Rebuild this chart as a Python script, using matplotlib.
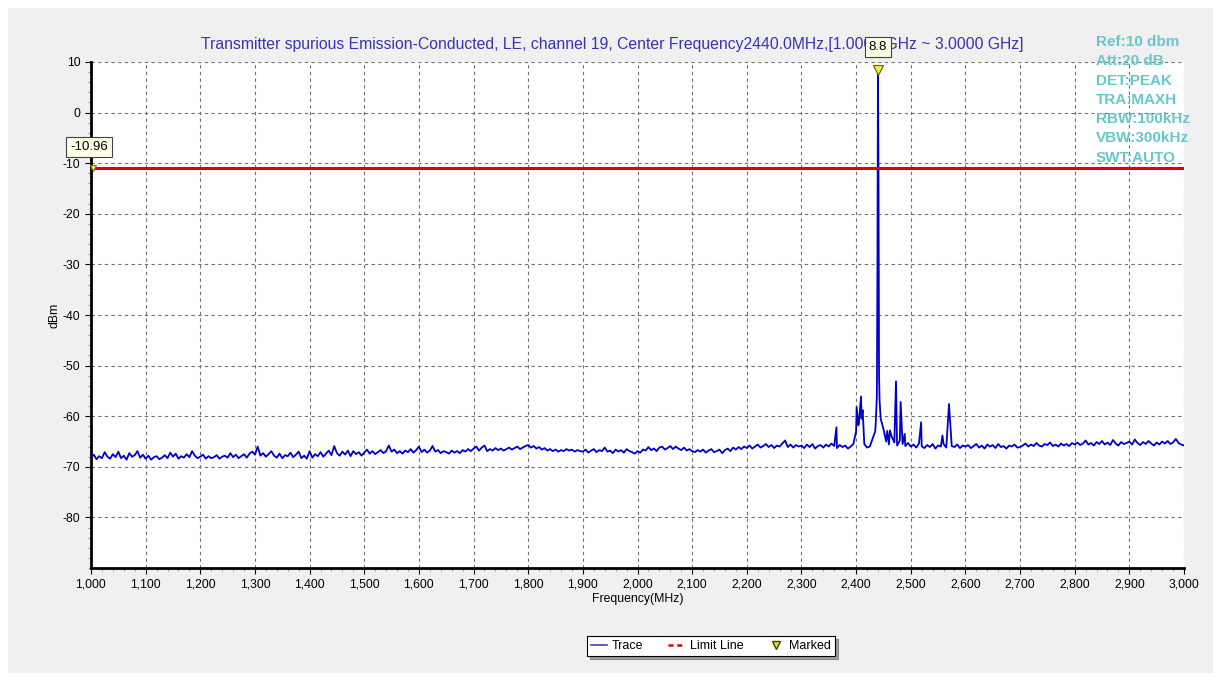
import numpy as np
import matplotlib.pyplot as plt
from matplotlib.patches import Rectangle
from matplotlib.lines import Line2D
from matplotlib.ticker import MultipleLocator, FuncFormatter

plt.rcParams['font.family'] = ['Liberation Sans', 'DejaVu Sans']
plt.rcParams['axes.unicode_minus'] = False

# noise floor, read every 5 MHz from 1000 to 3000 MHz
freq_start = 1000
freq_step = 5
floor_dbm = [
    -68.2, -67.6, -68.5, -67.9, -68.3, -67.1, -68.0, -68.4, -67.5, -68.1, -67.0, -68.3, -67.8, -68.6, -67.3, -68.0, -67.7, -66.9, -68.2, -67.6,
    -68.4, -67.8, -68.6, -68.1, -67.9, -68.5, -68.2, -67.7, -68.3, -67.2, -68.0, -67.4, -68.4, -67.9, -68.2, -67.5, -68.1, -66.9, -67.8, -68.3,
    -68.0, -67.6, -68.4, -67.9, -68.3, -68.1, -67.7, -68.4, -68.0, -67.8, -68.2, -67.3, -68.1, -67.6, -68.3, -67.9, -67.5, -68.2, -67.4, -67.0,
    -67.6, -66.0, -67.8, -67.3, -68.0, -67.5, -66.9, -67.8, -68.2, -67.4, -68.3, -67.7, -67.9, -67.2, -68.1, -67.6, -67.0, -68.3, -67.8, -68.4,
    -66.9, -68.2, -67.5, -67.9, -67.1, -68.0, -67.4, -66.8, -67.7, -65.9, -67.3, -67.8, -67.0, -67.6, -66.8, -67.9, -66.9, -67.5, -67.1, -67.8,
    -67.2, -66.6, -67.4, -66.9, -67.5, -67.1, -66.7, -67.3, -66.9, -65.8, -67.0, -66.6, -67.3, -66.9, -67.4, -66.8, -67.1, -66.5, -67.2, -66.7,
    -66.0, -67.1, -66.6, -67.2, -66.8, -65.9, -67.0, -66.7, -67.3, -66.9, -67.1, -67.4, -66.8, -67.2, -66.9, -67.3, -66.7, -67.0, -66.5, -66.9,
    -66.4, -66.0, -66.8, -66.2, -65.8, -66.9, -66.5, -66.8, -66.3, -66.7, -66.4, -66.8, -66.5, -66.2, -66.6, -66.3, -66.0, -66.5, -66.2, -65.9,
    -65.7, -66.2, -65.9, -66.4, -66.1, -66.6, -66.3, -66.8, -66.5, -66.9, -66.6, -67.0, -66.7, -66.9, -66.5, -66.8, -66.6, -67.0, -66.7, -66.9,
    -67.0, -66.6, -67.2, -66.8, -66.5, -67.1, -66.7, -66.9, -66.2, -67.0, -66.8, -67.3, -66.6, -67.0, -66.7, -67.2, -66.5, -66.9, -67.1, -67.4,
    -66.9, -67.2, -66.6, -66.8, -66.1, -66.7, -66.4, -66.9, -66.2, -66.0, -66.6, -66.3, -65.9, -66.5, -66.0, -66.4, -66.7, -66.2, -66.8, -66.5,
    -66.9, -67.1, -66.7, -67.0, -66.6, -67.2, -66.8, -66.5, -67.1, -66.9, -66.6, -67.3, -66.7, -66.4, -66.9, -66.2, -66.6, -66.1, -66.5, -66.0,
    -66.3, -65.8, -66.4, -66.0, -65.6, -66.2, -65.9, -65.5, -66.1, -65.7, -66.3, -65.8, -66.0, -65.4, -64.8, -66.1, -65.6, -66.2, -65.7, -66.0,
    -65.8, -66.3, -65.6, -66.1, -65.5, -66.4, -65.9, -65.7, -66.2, -65.6, -66.0, -65.4, -65.9, -66.3, -65.7, -66.1, -65.8, -66.4, -66.0, -65.5,
    -63.0, -61.5, -60.5, -65.5, -66.2, -66.0, -64.5, -63.0, -62.0, -60.5, -62.5, -65.0, -65.6, -64.0, -65.2, -65.8, -64.8, -65.5, -65.9, -65.3,
    -66.0, -65.6, -66.2, -65.4, -65.9, -66.3, -65.7, -66.1, -65.5, -66.4, -65.8, -66.0, -65.5, -66.2, -65.3, -65.9, -66.1, -65.6, -66.3, -65.8,
    -66.0, -65.7, -66.3, -65.9, -65.5, -66.2, -65.8, -66.4, -65.6, -66.0, -65.7, -66.3, -65.5, -66.1, -65.9, -66.4, -65.8, -66.0, -65.6, -66.2,
    -66.1, -65.8, -65.4, -66.0, -65.6, -65.9, -65.3, -65.8, -66.0, -65.5, -65.7, -65.2, -65.9, -65.6, -66.0, -65.4, -65.8, -65.5, -65.9, -65.3,
    -65.6, -65.2, -65.7, -65.4, -64.8, -65.6, -65.3, -65.8, -65.1, -65.5, -64.9, -65.6, -65.2, -65.7, -64.7, -65.4, -65.8, -65.1, -65.5, -65.3,
    -65.0, -65.6, -64.6, -65.3, -65.7, -65.1, -65.5, -64.9, -65.4, -65.8, -65.2, -65.6, -65.0, -65.4, -64.9, -65.5, -65.2, -64.5, -65.3, -65.6,
    -65.8,
]

# spurs and carrier (MHz, dBm)
spur_freq = [2364, 2401, 2404, 2409, 2412, 2436, 2438, 2439, 2440, 2441, 2442, 2443,
             2457, 2462, 2473, 2481.5, 2489, 2519, 2558, 2570]
spur_dbm = [-62.2, -58.2, -61.8, -56.1, -58.8, -61.2, -56.0, -32.3, 8.8, -13.0, -52.0, -57.0,
            -62.9, -62.8, -53.1, -57.2, -63.5, -61.2, -63.8, -57.6]

limit_dbm = -10.96
marker_freq = 2440
marker_dbm = 8.8

title = ("Transmitter spurious Emission-Conducted, LE, channel 19, "
         "Center Frequency2440.0MHz,[1.0000 GHz ~ 3.0000 GHz]")
info_lines = ["Ref:10 dbm", "Att:20 dB", "DET:PEAK", "TRA:MAXH",
              "RBW:100kHz", "VBW:300kHz", "SWT:AUTO"]

# merge floor and spurs
floor_freq = freq_start + freq_step * np.arange(len(floor_dbm))
keep = ~np.isin(floor_freq, spur_freq)
f_all = np.concatenate([floor_freq[keep], spur_freq])
v_all = np.concatenate([np.array(floor_dbm)[keep], spur_dbm])
order = np.argsort(f_all)
f_all, v_all = f_all[order], v_all[order]

fig = plt.figure(figsize=(12.21, 6.81), dpi=100, facecolor='white')
fig.patches.append(Rectangle((8 / 1221, 8 / 681), 1205 / 1221, 665 / 681,
                             transform=fig.transFigure, facecolor='#f0f0f0',
                             edgecolor='none', zorder=-10))

ax = fig.add_axes([91 / 1221, 1 - 568 / 681, 1093 / 1221, 506 / 681])
ax.set_facecolor('white')

ax.plot(f_all, v_all, color='#0000cc', lw=1.3, zorder=3)
ax.axhline(limit_dbm, color='#e00000', lw=2.2, zorder=4)

ax.plot([marker_freq], [marker_dbm - 0.3], marker='v', ms=7, color='#f0f040',
        mec='#606000', mew=0.8, ls='none', zorder=6, clip_on=False)
ax.plot([1003], [limit_dbm], marker='v', ms=5, color='#f0f040',
        mec='#606000', mew=0.6, ls='none', zorder=6, clip_on=False)

# title and info live on the axes so the marker boxes can sit on top
ax.text(612 / 1221, 1 - 44 / 681, title, transform=fig.transFigure,
        ha='center', va='center', fontsize=11.3, color='#3a32b4',
        zorder=8, clip_on=False)
for i, line in enumerate(info_lines):
    ax.text(1096 / 1221, 1 - (42 + i * 19.3) / 681, line, transform=fig.transFigure,
            ha='left', va='center', fontsize=11, fontweight='bold',
            color='#66c8c8', zorder=20, clip_on=False)

box = dict(boxstyle='square,pad=0.3', fc='#ffffe6', ec='#404040', lw=0.8)
ax.annotate(f"{marker_dbm}", (marker_freq, 0), xycoords=('data', 'figure pixels'),
            xytext=(marker_freq, 681 - 47), textcoords=('data', 'figure pixels'),
            ha='center', va='center', fontsize=9.5, bbox=box, zorder=10,
            annotation_clip=False)
ax.annotate(f"{limit_dbm}", (1000, 0), xycoords=('data', 'figure pixels'),
            xytext=(89, 681 - 147), textcoords='figure pixels',
            ha='center', va='center', fontsize=9.5, bbox=box, zorder=10,
            annotation_clip=False)

ax.set_xlim(1000, 3000)
ax.set_ylim(-90, 10)
ax.xaxis.set_major_locator(MultipleLocator(100))
ax.xaxis.set_minor_locator(MultipleLocator(20))
ax.set_yticks(np.arange(-80, 11, 10))
ax.yaxis.set_minor_locator(MultipleLocator(2))
ax.xaxis.set_major_formatter(FuncFormatter(lambda v, p: f"{int(v):,}"))
ax.tick_params(labelsize=8.8, length=4, color='black')
ax.tick_params(which='minor', length=2, color='#808080')
ax.grid(True, which='major', ls=(0, (3, 3)), color='#707070', lw=0.8)

for s in ['top', 'right']:
    ax.spines[s].set_visible(False)
for s in ['left', 'bottom']:
    ax.spines[s].set_linewidth(2)
    ax.spines[s].set_color('black')

ax.set_xlabel("Frequency(MHz)", fontsize=8.8, labelpad=2)
ax.set_ylabel("dBm", fontsize=8.8, labelpad=2)

handles = [Line2D([], [], color='#4040c0', lw=1.2),
           Line2D([], [], color='#e00000', lw=1.8, ls=(0, (2, 1.5))),
           Line2D([], [], marker='v', color='#e0e020', mec='#404000', ls='none', ms=6)]
leg = fig.legend(handles, ["Trace", "Limit Line", "Marked"], ncol=3,
                 loc='center', bbox_to_anchor=(711 / 1221, 1 - 646 / 681),
                 fontsize=9, frameon=True, fancybox=False, shadow=True,
                 handlelength=1.3, columnspacing=2.0, handletextpad=0.4,
                 borderpad=0.3)
leg.get_frame().set_edgecolor('black')
leg.get_frame().set_linewidth(0.8)

fig.savefig("out.png", dpi=100, facecolor=fig.get_facecolor())
